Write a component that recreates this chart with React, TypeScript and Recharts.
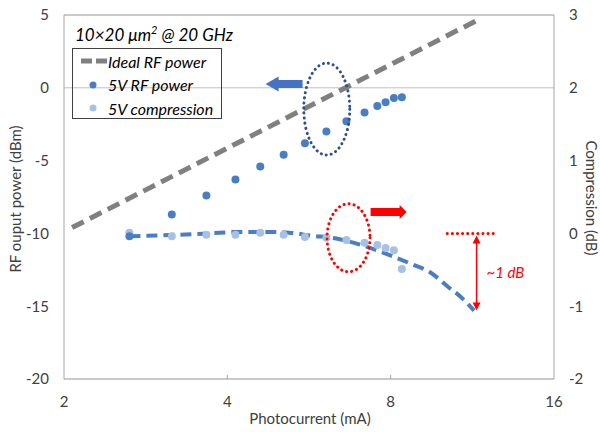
import {
  ComposedChart,
  XAxis,
  YAxis,
  CartesianGrid,
  Line,
  Scatter,
  ReferenceLine,
  ReferenceDot,
} from 'recharts';

// measured photocurrent (mA)
const current = [2.64, 3.16, 3.66, 4.14, 4.6, 5.08, 5.56, 6.09, 6.63, 7.16, 7.56, 7.83, 8.11, 8.39];
// 5V RF power (dBm)
const rfPower = [-10.2, -8.7, -7.4, -6.3, -5.4, -4.6, -3.8, -3.0, -2.3, -1.7, -1.25, -1.0, -0.7, -0.65];
// 5V compression (dB)
const compression = [0.01, -0.04, -0.02, -0.02, 0.01, -0.02, -0.05, -0.06, -0.09, -0.13, -0.16, -0.2, -0.23, -0.49];

// fitted compression trend
const fitCurrent = [2.64, 3.2, 3.7, 4.2, 4.7, 5.2, 5.7, 6.35, 7.0, 7.6, 8.1, 8.8, 9.44, 10.19, 10.8, 11.4];
const fitComp = [-0.04, -0.02, 0.0, 0.02, 0.02, 0.01, -0.03, -0.07, -0.15, -0.24, -0.32, -0.43, -0.53, -0.73, -0.88, -1.06];

// ideal RF power line
const idealCurrent = [2.07, 11.5];
const idealPower = [-9.6, 4.6];

const xTicks = [2, 4, 8, 16];
const leftTicks = [-20, -15, -10, -5, 0, 5];
const rightTicks = [-2, -1, 0, 1, 2, 3];

const rfData = current.map((x, i) => ({ x, y: rfPower[i] }));
const compData = current.map((x, i) => ({ x, y: compression[i] }));
const fitData = fitCurrent.map((x, i) => ({ x, y: fitComp[i] }));
const idealData = idealCurrent.map((x, i) => ({ x, y: idealPower[i] }));

const BLUE = '#4a7ec2';
const LIGHT = '#a7c1e2';
const GRAY = '#808080';
const TXT = '#404040';
const AXIS = '#a6a6a6';

const XTick = (props: any) => {
  const { x, y, payload } = props;
  const axisY = y - 14;
  const v = payload.value;
  return (
    <g>
      {v !== 2 && v !== 16 && <line x1={x} y1={axisY} x2={x} y2={axisY - 4} stroke={AXIS} />}
      <text x={x} y={y + 14} textAnchor="middle" fill={TXT} fontSize={15}>
        {v}
      </text>
    </g>
  );
};

const Ellipse = (color: string, rx: number, ry: number) => (props: any) => (
  <ellipse
    cx={props.cx}
    cy={props.cy}
    rx={rx}
    ry={ry}
    fill="none"
    stroke={color}
    strokeWidth={3}
    strokeDasharray="0.1 5"
    strokeLinecap="round"
  />
);

const BlueArrow = (props: any) => {
  const { cx, cy } = props;
  return (
    <polygon
      points={`${cx + 18},${cy - 4} ${cx - 6},${cy - 4} ${cx - 6},${cy - 7.5} ${cx - 19},${cy} ${cx - 6},${cy + 7.5} ${cx - 6},${cy + 4} ${cx + 18},${cy + 4}`}
      fill="#4472c4"
    />
  );
};

const RedArrow = (props: any) => {
  const { cx, cy } = props;
  return (
    <polygon
      points={`${cx - 18},${cy - 4} ${cx + 11},${cy - 4} ${cx + 11},${cy - 7} ${cx + 18},${cy} ${cx + 11},${cy + 7} ${cx + 11},${cy + 4} ${cx - 18},${cy + 4}`}
      fill="#ff0000"
    />
  );
};

const DoubleArrow = (props: any) => {
  const { x1, y1, x2, y2 } = props;
  const top = Math.min(y1, y2);
  const bot = Math.max(y1, y2);
  return (
    <g>
      <line x1={x1} y1={top + 4} x2={x2} y2={bot - 4} stroke="#ff0000" strokeWidth={1.5} />
      <polygon points={`${x1},${top} ${x1 - 4},${top + 8} ${x1 + 4},${top + 8}`} fill="#ff0000" />
      <polygon points={`${x1},${bot} ${x1 - 4},${bot - 8} ${x1 + 4},${bot - 8}`} fill="#ff0000" />
      <text x={x1 + 10} y={(top + bot) / 2 + 5} fill="#ff0000" fontSize={15} fontStyle="italic">
        ~1 dB
      </text>
    </g>
  );
};

const Dot = (color: string) => (props: any) => <circle cx={props.cx} cy={props.cy} r={4} fill={color} />;

export default function App() {
  return (
    <div style={{ position: 'absolute', left: 0, top: 0, width: 600, height: 432, fontFamily: 'Lato, sans-serif', background: '#fff' }}>
      <ComposedChart width={600} height={432} margin={{ top: 15, right: 0, bottom: 0, left: 0 }}>
        <CartesianGrid vertical={false} stroke="#d9d9d9" />
        <XAxis
          dataKey="x"
          type="number"
          scale="log"
          domain={[2, 16]}
          ticks={xTicks}
          allowDataOverflow
          height={53}
          stroke={AXIS}
          tickLine={false}
          tickSize={6}
          tickMargin={8}
          tick={<XTick />}
          label={{
            content: () => (
              <text x={310} y={424} textAnchor="middle" fill={TXT} fontSize={15}>
                Photocurrent (mA)
              </text>
            ),
          }}
        />
        <YAxis
          yAxisId="left"
          domain={[-20, 5]}
          ticks={leftTicks}
          width={64}
          stroke={AXIS}
          tickLine={false}
          tickSize={6}
          tickMargin={9}
          tick={{ fill: TXT, fontSize: 15 }}
          label={{
            content: () => (
              <text x={21} y={199} transform="rotate(-90 21 199)" textAnchor="middle" fill={TXT} fontSize={15}>
                RF ouput power (dBm)
              </text>
            ),
          }}
        />
        <YAxis
          yAxisId="right"
          orientation="right"
          domain={[-2, 3]}
          ticks={rightTicks}
          width={46}
          stroke={AXIS}
          tickLine={false}
          tickSize={6}
          tickMargin={9}
          tick={{ fill: TXT, fontSize: 15 }}
          label={{
            content: () => (
              <text x={586} y={198} transform="rotate(90 586 198)" textAnchor="middle" fill={TXT} fontSize={15}>
                Compression (dB)
              </text>
            ),
          }}
        />
        <ReferenceLine yAxisId="left" y={5} stroke={AXIS} />
        <ReferenceLine yAxisId="left" y={0} stroke="#bfbfbf" />
        <Scatter yAxisId="right" data={compData} dataKey="y" shape={Dot(LIGHT)} isAnimationActive={false} />
        <Scatter yAxisId="left" data={rfData} dataKey="y" shape={Dot(BLUE)} isAnimationActive={false} />
        <Line
          yAxisId="right"
          data={fitData}
          dataKey="y"
          type="monotone"
          stroke={BLUE}
          strokeWidth={4}
          strokeDasharray="11 6"
          dot={false}
          activeDot={false}
          isAnimationActive={false}
        />
        <Line
          yAxisId="left"
          data={idealData}
          dataKey="y"
          type="linear"
          stroke={GRAY}
          strokeWidth={5}
          strokeDasharray="13 7"
          dot={false}
          activeDot={false}
          isAnimationActive={false}
        />
        <ReferenceDot yAxisId="left" x={6.1} y={-1.46} shape={Ellipse('#2f4f8f', 23, 46)} />
        <ReferenceDot yAxisId="right" x={6.69} y={-0.06} shape={Ellipse('#ff0000', 21.5, 34)} />
        <ReferenceDot yAxisId="left" x={5.1} y={0.26} shape={BlueArrow} />
        <ReferenceDot yAxisId="left" x={7.93} y={-8.53} shape={RedArrow} />
        <ReferenceLine
          yAxisId="right"
          segment={[
            { x: 10.17, y: 0 },
            { x: 12.54, y: 0 },
          ]}
          stroke="#ff0000"
          strokeWidth={3}
          strokeDasharray="0.1 5"
          strokeLinecap="round"
        />
        <ReferenceLine
          yAxisId="right"
          segment={[
            { x: 11.52, y: -0.03 },
            { x: 11.52, y: -1.06 },
          ]}
          shape={DoubleArrow}
        />
      </ComposedChart>
      <div
        style={{ position: 'absolute', left: 75, top: 23, fontSize: 17, fontStyle: 'italic', color: '#000', whiteSpace: 'nowrap' }}
      >
        10×20 μm<sup style={{ fontSize: 11 }}>2</sup> @ 20 GHz
      </div>
      <div
        style={{
          position: 'absolute',
          left: 72,
          top: 48,
          width: 150,
          height: 71,
          border: '1px solid #404040',
          fontSize: 16,
          fontStyle: 'italic',
          color: '#000',
          boxSizing: 'border-box',
        }}
      >
        {[
          { name: 'Ideal RF power', kind: 'line' },
          { name: '5V RF power', kind: BLUE },
          { name: '5V compression', kind: LIGHT },
        ].map((e, i) => (
          <div key={e.name} style={{ position: 'absolute', left: 0, top: 1 + i * 23.5, height: 22, display: 'flex', alignItems: 'center', whiteSpace: 'nowrap' }}>
            <svg width={35} height={22}>
              {e.kind === 'line' ? (
                <line x1={8} y1={11} x2={34} y2={11} stroke={GRAY} strokeWidth={5} strokeDasharray="11 4" />
              ) : (
                <circle cx={20} cy={11} r={3.5} fill={e.kind} />
              )}
            </svg>
            <span>{e.name}</span>
          </div>
        ))}
      </div>
    </div>
  );
}
